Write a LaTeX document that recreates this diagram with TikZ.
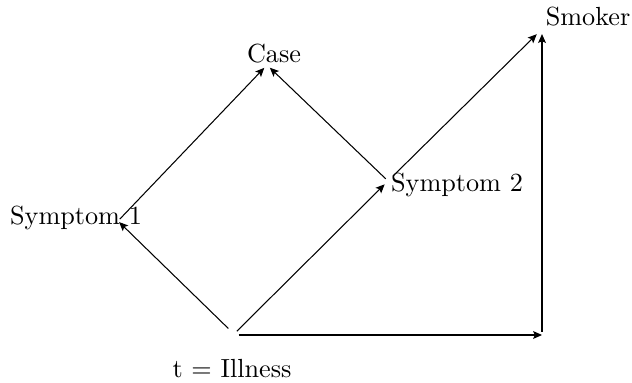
\documentclass[tikz,border=0pt]{standalone}
\usetikzlibrary{arrows.meta}
\begin{document}
\begin{tikzpicture}[x=0.3817pt,y=-0.3817pt,
  edge/.style={line width=0.4pt,-{Stealth[length=3.4pt,width=3pt,inset=0.7pt]}},
  lbl/.style={inner sep=0pt}]
\useasboundingbox (0,0) rectangle (632,383);
% points
\coordinate (T) at (234,334);
\coordinate (S1) at (118,221);
\coordinate (Ca) at (267,65);
\coordinate (S2) at (388,181);
\coordinate (Sm) at (539,32);
\coordinate (Co) at (542,335);
% labels
\node[lbl] (lCase) at (274,54) {Case};
\node[lbl] (lSm) at (588,17) {Smoker};
\node[lbl] (lS2) at (457,185) {Symptom 2};
\node[lbl] (lS1) at (76,217.5) {Symptom 1};
\node[lbl] (lT) at (232,369) {t = Illness};
% edges
\draw[edge,shorten <=3pt,shorten >=0.6pt] (T) -- (S1);
\draw[edge,shorten <=1pt,shorten >=1.5pt] (S1) -- (Ca);
\draw[edge,shorten <=1.5pt,shorten >=1.8pt] (T) -- (S2);
\draw[edge,shorten <=1.2pt,shorten >=1.5pt] (S2) -- (Ca);
\draw[edge,shorten <=2.5pt,shorten >=1.2pt] (S2) -- (Sm);
\draw[edge,shorten <=1.8pt,shorten >=0pt] (T) ++(0,1) coordinate (T2) (T2) -- (Co);
\draw[edge,shorten <=1.2pt,shorten >=0.8pt] (Co) -- (Co |- Sm);
\end{tikzpicture}
\end{document}
